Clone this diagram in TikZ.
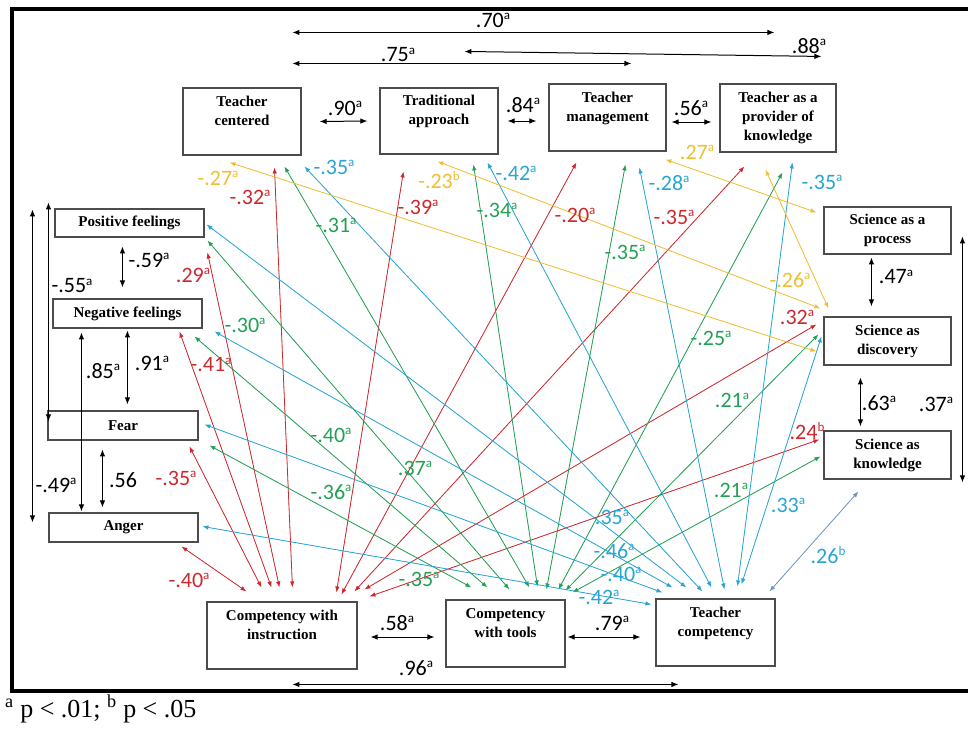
\documentclass[tikz,border=0pt]{standalone}
\usepackage{fontspec}
\setmainfont{Liberation Serif}
\newfontfamily\coeffont{Carlito}
\usetikzlibrary{arrows.meta}

\definecolor{cgold}{RGB}{240,190,50}
\definecolor{cred}{RGB}{205,40,45}
\definecolor{cgreen}{RGB}{35,160,85}
\definecolor{cblue}{RGB}{40,165,210}
\definecolor{csteel}{RGB}{110,150,195}

\newcommand{\siga}{\raisebox{7.5pt}{\fontsize{13}{13}\selectfont a}}
\newcommand{\sigb}{\raisebox{7.5pt}{\fontsize{13}{13}\selectfont b}}

\begin{document}
\begin{tikzpicture}[x=1pt,y=-1pt,
    >={Latex[length=6pt,width=4.5pt]},
    cbox/.style={draw=black!70, line width=1.1pt, align=center, inner sep=0pt,
        font=\fontsize{15}{19}\selectfont\bfseries},
    coef/.style={font=\coeffont\fontsize{22}{24}\selectfont, inner sep=0pt},
    blacklab/.style={coef, text=black},
    redlab/.style={coef, text=cred},
    greenlab/.style={coef, text=cgreen},
    bluelab/.style={coef, text=cblue},
    goldlab/.style={coef, text=cgold},
    blackcor/.style={<->, >={Latex[length=7pt,width=5.5pt]}, line width=1pt},
    redcor/.style={<->, draw=cred, fill=cred, line width=0.8pt},
    greencor/.style={<->, draw=cgreen, fill=cgreen, line width=0.8pt},
    bluecor/.style={<->, draw=cblue, fill=cblue, line width=0.8pt},
    goldcor/.style={<->, draw=cgold, fill=cgold, line width=0.8pt},
    steelcor/.style={<->, draw=csteel, fill=csteel, line width=0.8pt}]

    \useasboundingbox (0,0) rectangle (968,728);
    \draw[line width=4pt] (11.5,9) rectangle (975,690.5);

    % beliefs about teaching
    \node[cbox, minimum width=118, minimum height=67] (tc) at (242,121.5)
        {\strut Teacher\\centered\\\strut};
    \node[cbox, minimum width=118, minimum height=66] (ta) at (439,121)
        {\strut Traditional\\approach\\\strut};
    \node[cbox, minimum width=117, minimum height=67] (tm) at (607.5,117.5)
        {\strut Teacher\\management\\\strut};
    \node[cbox, minimum width=116, minimum height=68] (tap) at (778,118)
        {Teacher as a\\provider of\\knowledge};

    % emotions
    \node[cbox, minimum width=149, minimum height=28] (pf) at (129.5,223) {Positive feelings};
    \node[cbox, minimum width=149, minimum height=29] (nf) at (127.5,313.5) {Negative feelings};
    \node[cbox, minimum width=150, minimum height=29] (fear) at (123,425.5) {Fear};
    \node[cbox, minimum width=149, minimum height=29] (anger) at (123.5,527.5) {Anger};

    % competency
    \node[cbox, minimum width=150, minimum height=67] (cwi) at (282,635.5)
        {\strut Competency with\\instruction\\\strut};
    \node[cbox, minimum width=119, minimum height=67] (cwt) at (505.5,633.5)
        {\strut Competency\\with tools\\\strut};
    \node[cbox, minimum width=119, minimum height=67] (tcomp) at (715.5,632.5)
        {\strut Teacher\\competency\\\strut};

    % beliefs about science
    \node[cbox, minimum width=127, minimum height=47] (proc) at (887.5,230.5) {Science as a\\process};
    \node[cbox, minimum width=127, minimum height=48] (disc) at (887.5,341) {Science as\\discovery};
    \node[cbox, minimum width=127, minimum height=48] (know) at (887.5,455) {Science as\\knowledge};

    % black correlations
    \draw[blackcor] ([shift={(110,-55)}]tc.north west) -- ([shift={(55,-51)}]tap.north west);
    \draw[blackcor] ([shift={(110,-24)}]tc.north west) -- ([shift={(83,-20)}]tm.north west);
    \draw[blackcor] ([shift={(85,-36)}]ta.north west) -- ([shift={(102,-27)}]tap.north west);
    \draw[blackcor] ([xshift=18pt]tc.east) -- ([xshift=-12pt]ta.west);
    \draw[blackcor] ([xshift=9pt]ta.east) -- ([shift={(-12,3.5)}]tm.west);
    \draw[blackcor] ([shift={(5,4.5)}]tm.east) -- ([shift={(-8,4)}]tap.west);
    \draw[blackcor] ([shift={(68,38)}]pf.north west) -- ([shift={(70,-11)}]nf.north west);
    \draw[blackcor] ([shift={(-6,-6)}]pf.north west) -- ([shift={(1,11)}]fear.north west);
    \draw[blackcor] ([shift={(-22,1)}]pf.north west) -- ([shift={(-16,10)}]anger.north west);
    \draw[blackcor] ([shift={(29,34)}]nf.north west) -- ([shift={(33,-1)}]anger.north west);
    \draw[blackcor] ([shift={(75,32)}]nf.north west) -- ([shift={(80,-6)}]fear.north west);
    \draw[blackcor] ([shift={(55,39)}]fear.north west) -- ([shift={(54,-5)}]anger.north west);
    \draw[blackcor] ([shift={(48,51)}]proc.north west) -- ([shift={(48,-10)}]disc.north west);
    \draw[blackcor] ([shift={(37,61)}]disc.north west) -- ([shift={(37,-4)}]know.north west);
    \draw[blackcor] ([shift={(139,30)}]proc.north west) -- ([shift={(139,52)}]know.north west);
    \draw[blackcor] ([shift={(13,1.5)}]cwi.east) -- ([shift={(-11,3.5)}]cwt.west);
    \draw[blackcor] ([shift={(2,3.5)}]cwt.east) -- ([shift={(-15,4.5)}]tcomp.west);
    \draw[blackcor] ([shift={(86,83)}]cwi.north west) -- ([shift={(23,86)}]tcomp.north west);

    % competency with instruction
    \draw[redcor] ([shift={(92,80)}]tc.north west) -- ([shift={(86,-14)}]cwi.north west);
    \draw[redcor] ([shift={(24,84)}]ta.north west) -- ([shift={(130,-9)}]cwi.north west);
    \draw[redcor] ([shift={(28,79)}]tm.north west) -- ([shift={(135,-7)}]cwi.north west);
    \draw[redcor] ([shift={(25,83)}]tap.north west) -- ([shift={(148,-10)}]cwi.north west);
    \draw[redcor] ([shift={(-7,8)}]disc.north west) -- ([shift={(158,-12)}]cwi.north west);
    \draw[redcor] ([shift={(-4,9)}]know.north west) -- ([shift={(163,-5)}]cwi.north west);
    \draw[redcor] ([shift={(153,44)}]pf.north west) -- ([shift={(73,-14)}]cwi.north west);
    \draw[redcor] ([shift={(127,33)}]nf.north west) -- ([shift={(65,-14)}]cwi.north west);
    \draw[redcor] ([shift={(142,36)}]fear.north west) -- ([shift={(55,-14)}]cwi.north west);
    \draw[redcor] ([shift={(133,34)}]anger.north west) -- ([shift={(40,-10)}]cwi.north west);

    % competency with tools
    \draw[greencor] ([shift={(102,79)}]tc.north west) -- ([shift={(84,-12)}]cwt.north west);
    \draw[greencor] ([shift={(94,77)}]ta.north west) -- ([shift={(92,-13)}]cwt.north west);
    \draw[greencor] ([shift={(77,81)}]tm.north west) -- ([shift={(101,-10)}]cwt.north west);
    \draw[greencor] ([shift={(63,89)}]tap.north west) -- ([shift={(113,-10)}]cwt.north west);
    \draw[greencor] ([shift={(-5,18)}]disc.north west) -- ([shift={(120,-9)}]cwt.north west);
    \draw[greencor] ([shift={(-3,26)}]know.north west) -- ([shift={(127,-7)}]cwt.north west);
    \draw[greencor] ([shift={(153,32)}]pf.north west) -- ([shift={(64,-10)}]cwt.north west);
    \draw[greencor] ([shift={(142,38)}]nf.north west) -- ([shift={(42,-12)}]cwt.north west);
    \draw[greencor] ([shift={(162,35)}]fear.north west) -- ([shift={(26,-12)}]cwt.north west);

    % teacher competency
    \draw[bluecor] ([shift={(122,79)}]tc.north west) -- ([shift={(47,-7)}]tcomp.north west);
    \draw[bluecor] ([shift={(108,75)}]ta.north west) -- ([shift={(56,-11)}]tcomp.north west);
    \draw[bluecor] ([shift={(91,84)}]tm.north west) -- ([shift={(69,-9)}]tcomp.north west);
    \draw[bluecor] ([shift={(73,79)}]tap.north west) -- ([shift={(82,-12)}]tcomp.north west);
    \draw[bluecor] ([shift={(-2,20)}]disc.north west) -- ([shift={(86,-14)}]tcomp.north west);
    \draw[bluecor] ([shift={(152,16)}]pf.north west) -- ([shift={(31,-11)}]tcomp.north west);
    \draw[bluecor] ([shift={(162,33)}]nf.north west) -- ([shift={(17,-11)}]tcomp.north west);
    \draw[bluecor] ([shift={(157,14)}]fear.north west) -- ([shift={(7,-6)}]tcomp.north west);
    \draw[bluecor] ([shift={(154,14)}]anger.north west) -- ([shift={(-4,6)}]tcomp.north west);
    \draw[steelcor] ([shift={(114,-7)}]tcomp.north west) -- ([shift={(35,61)}]know.north west);

    % teaching beliefs vs science beliefs
    \draw[goldcor] ([shift={(47,75)}]tc.north west) -- ([shift={(-7,35)}]disc.north west);
    \draw[goldcor] ([shift={(58,74)}]ta.north west) -- ([shift={(-3,-8)}]disc.north west);
    \draw[goldcor] ([shift={(117,76)}]tm.north west) -- ([shift={(-7,6)}]proc.north west);
    \draw[goldcor] ([shift={(46,86)}]tap.north west) -- ([shift={(5,-8)}]disc.north west);

    % coefficients
    \node[blacklab] (k70) at (493,20) {.70\siga};
    \node[blacklab] (k75) at (398,55) {.75\siga};
    \node[blacklab] (k88) at (809,46) {.88\siga};
    \node[blacklab] (k90) at (345,108) {.90\siga};
    \node[blacklab] (k84) at (523,105) {.84\siga};
    \node[blacklab] (k56a) at (691,108) {.56\siga};
    \node[blacklab] (k59) at (149,260) {-.59\siga};
    \node[blacklab] (k55) at (72,286) {-.55\siga};
    \node[blacklab] (k49) at (56,485) {-.49\siga};
    \node[blacklab] (k85) at (103,371) {.85\siga};
    \node[blacklab] (k91) at (152,363) {.91\siga};
    \node[blacklab] (k56) at (123,480) {.56};
    \node[blacklab] (k47) at (896,277) {.47\siga};
    \node[blacklab] (k63) at (879,403) {.63\siga};
    \node[blacklab] (k37) at (936,404) {.37\siga};
    \node[blacklab] (k58) at (397,623) {.58\siga};
    \node[blacklab] (k79) at (612,623) {.79\siga};
    \node[blacklab] (k96) at (416,668) {.96\siga};

    \node[goldlab] (y27) at (218,178) {-.27\siga};
    \node[goldlab] (y23) at (439,180) {-.23\sigb};
    \node[goldlab] (y27b) at (697,152) {.27\siga};
    \node[goldlab] (y26) at (790,280) {-.26\siga};

    \node[redlab] (r32) at (250,197) {-.32\siga};
    \node[redlab] (r39) at (418,207) {-.39\siga};
    \node[redlab] (r20) at (575,215) {-.20\siga};
    \node[redlab] (r35) at (674,217) {-.35\siga};
    \node[redlab] (r32b) at (797,317) {.32\siga};
    \node[redlab] (r24) at (807,431) {.24\sigb};
    \node[redlab] (r29) at (193,275) {.29\siga};
    \node[redlab] (r41) at (211,365) {-.41\siga};
    \node[redlab] (r35b) at (176,478) {-.35\siga};
    \node[redlab] (r40) at (189,580) {-.40\siga};

    \node[greenlab] (g31) at (336,225) {-.31\siga};
    \node[greenlab] (g34) at (497,210) {-.34\siga};
    \node[greenlab] (g35) at (625,252) {-.35\siga};
    \node[greenlab] (g25) at (711,338) {-.25\siga};
    \node[greenlab] (g21) at (732,400) {.21\siga};
    \node[greenlab] (g21b) at (731,490) {.21\siga};
    \node[greenlab] (g30) at (245,325) {-.30\siga};
    \node[greenlab] (g40) at (331,435) {-.40\siga};
    \node[greenlab] (g36) at (331,492) {-.36\siga};
    \node[greenlab] (g37) at (415,468) {.37\siga};
    \node[greenlab] (g35b) at (419,579) {-.35\siga};

    \node[bluelab] (b35) at (334,167) {-.35\siga};
    \node[bluelab] (b42) at (516,173) {-.42\siga};
    \node[bluelab] (b28) at (669,183) {-.28\siga};
    \node[bluelab] (b35b) at (822,182) {-.35\siga};
    \node[bluelab] (b33) at (788,505) {.33\siga};
    \node[bluelab] (b26) at (828,555) {.26\sigb};
    \node[bluelab] (b35c) at (612,517) {.35\siga};
    \node[bluelab] (b46) at (614,551) {-.46\siga};
    \node[bluelab] (b40) at (621,574) {-.40\siga};
    \node[bluelab] (b42b) at (599,597) {-.42\siga};

    \node[anchor=base west, inner sep=0pt, font=\fontsize{26}{28}\selectfont] (note)
        at (5,717) {\textsuperscript{a} p < .01; \textsuperscript{b} p < .05};

\end{tikzpicture}
\end{document}
